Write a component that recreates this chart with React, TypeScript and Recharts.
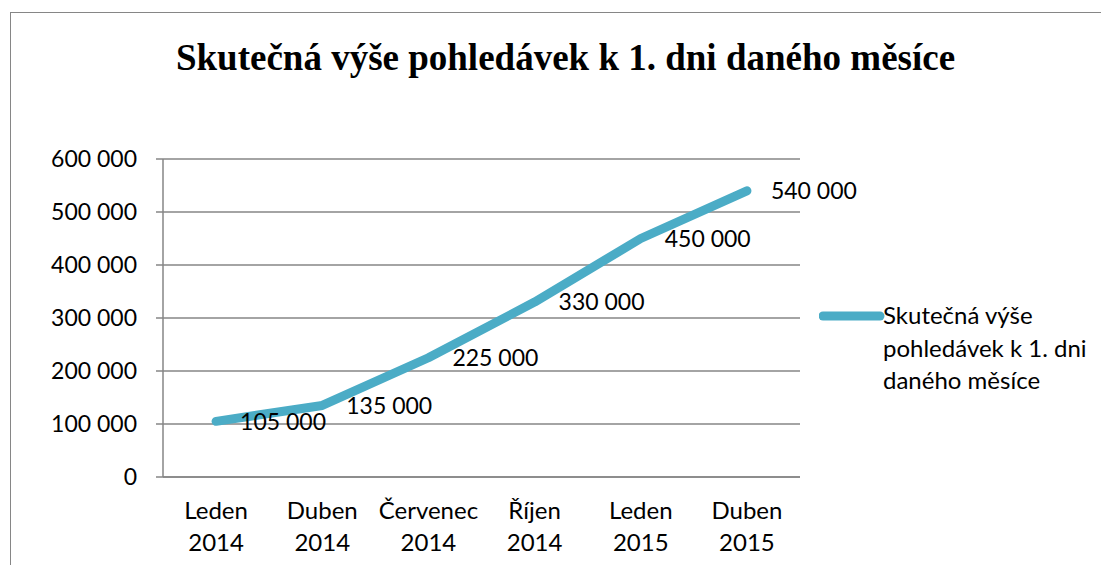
import React from 'react';
import { LineChart, Line, XAxis, YAxis, CartesianGrid, Legend, LabelList } from 'recharts';

const months = ['Leden', 'Duben', 'Červenec', 'Říjen', 'Leden', 'Duben'];
const years = ['2014', '2014', '2014', '2014', '2015', '2015'];
const values = [105000, 135000, 225000, 330000, 450000, 540000];
const yTicks = [0, 100000, 200000, 300000, 400000, 500000, 600000];
const bounds = [0, 1, 2, 3, 4, 5, 6];

const title = 'Skutečná výše pohledávek k 1. dni daného měsíce';
const legendLines = ['Skutečná výše', 'pohledávek k 1. dni', 'daného měsíce'];

const data = months.map((m, i) => ({ period: `${m}\n${years[i]}`, value: values[i] }));

const FONT = 'Lato';
const LINE = '#4BACC6';
const GRID = '#868686';

const fmt = (v: number) => String(v).replace(/\B(?=(\d{3})+(?!\d))/g, ' ');

const CatTick = ({ x, y, payload }: any) => {
  const [a, b] = String(payload.value).split('\n');
  return (
    <text x={x} y={y} textAnchor="middle" fontFamily={FONT} fontSize={24} fill="#000">
      <tspan x={x} dy={41}>{a}</tspan>
      <tspan x={x} dy={32}>{b}</tspan>
    </text>
  );
};

const LegendBox = () => (
  <svg width={280} height={110}>
    <line x1={4} y1={16} x2={61} y2={16} stroke={LINE} strokeWidth={9} strokeLinecap="round" />
    <text fontFamily={FONT} fontSize={24} fill="#000">
      {legendLines.map((t, i) => (
        <tspan key={i} x={64} y={24 + i * 32.5}>{t}</tspan>
      ))}
    </text>
  </svg>
);

export default function App() {
  return (
    <div style={{ position: 'absolute', left: 0, top: 0, width: 1101, height: 565, background: '#fff', overflow: 'hidden' }}>
      <div
        style={{
          position: 'absolute', left: 10, top: 12, right: 0, bottom: 0,
          borderLeft: `1.5px solid ${GRID}`, borderTop: `1.5px solid ${GRID}`,
        }}
      />
      <div
        style={{
          position: 'absolute', left: 0, top: 39, width: 1131, textAlign: 'center',
          fontFamily: 'Liberation Serif', fontWeight: 'bold', fontSize: 37, lineHeight: '37px', color: '#000',
        }}
      >
        {title}
      </div>
      <LineChart
        width={1101}
        height={565}
        data={data}
        margin={{ top: 159, right: 301, bottom: 0, left: 103 }}
        style={{ position: 'absolute', left: 0, top: 0 }}
      >
        <CartesianGrid vertical={false} stroke={GRID} strokeWidth={1.5} xAxisId="cat" />
        <XAxis
          xAxisId="bounds"
          type="number"
          domain={[0, 6]}
          ticks={bounds}
          allowDataOverflow
          interval={0}
          tick={false}
          tickSize={9}
          tickLine={{ stroke: GRID, strokeWidth: 1.5 }}
          axisLine={{ stroke: GRID, strokeWidth: 1.5 }}
          height={1}
        />
        <XAxis
          xAxisId="cat"
          dataKey="period"
          type="category"
          scale="band"
          interval={0}
          tickLine={false}
          axisLine={false}
          tickSize={0}
          tickMargin={0}
          height={87}
          tick={<CatTick />}
        />
        <YAxis
          domain={[0, 600000]}
          ticks={yTicks}
          interval={0}
          width={60}
          tickSize={7}
          tickMargin={19}
          tickFormatter={fmt}
          tick={{ fontFamily: FONT, fontSize: 23, fill: '#000' }}
          tickLine={{ stroke: GRID, strokeWidth: 1.5 }}
          axisLine={{ stroke: GRID, strokeWidth: 1.5 }}
        />
        <Legend
          layout="horizontal"
          verticalAlign="middle"
          align="center"
          content={() => <LegendBox />}
          wrapperStyle={{ position: 'absolute', left: 819, top: 300, width: 280, height: 110 }}
        />
        <Line
          xAxisId="cat"
          name={title}
          dataKey="value"
          type="linear"
          stroke={LINE}
          strokeWidth={9}
          strokeLinecap="round"
          strokeLinejoin="round"
          dot={false}
          activeDot={false}
          isAnimationActive={false}
        >
          <LabelList
            dataKey="value"
            position="right"
            offset={24}
            formatter={(v: any) => fmt(Number(v))}
            fill="#000"
            fontFamily={FONT}
            fontSize={23}
          />
        </Line>
      </LineChart>
    </div>
  );
}
